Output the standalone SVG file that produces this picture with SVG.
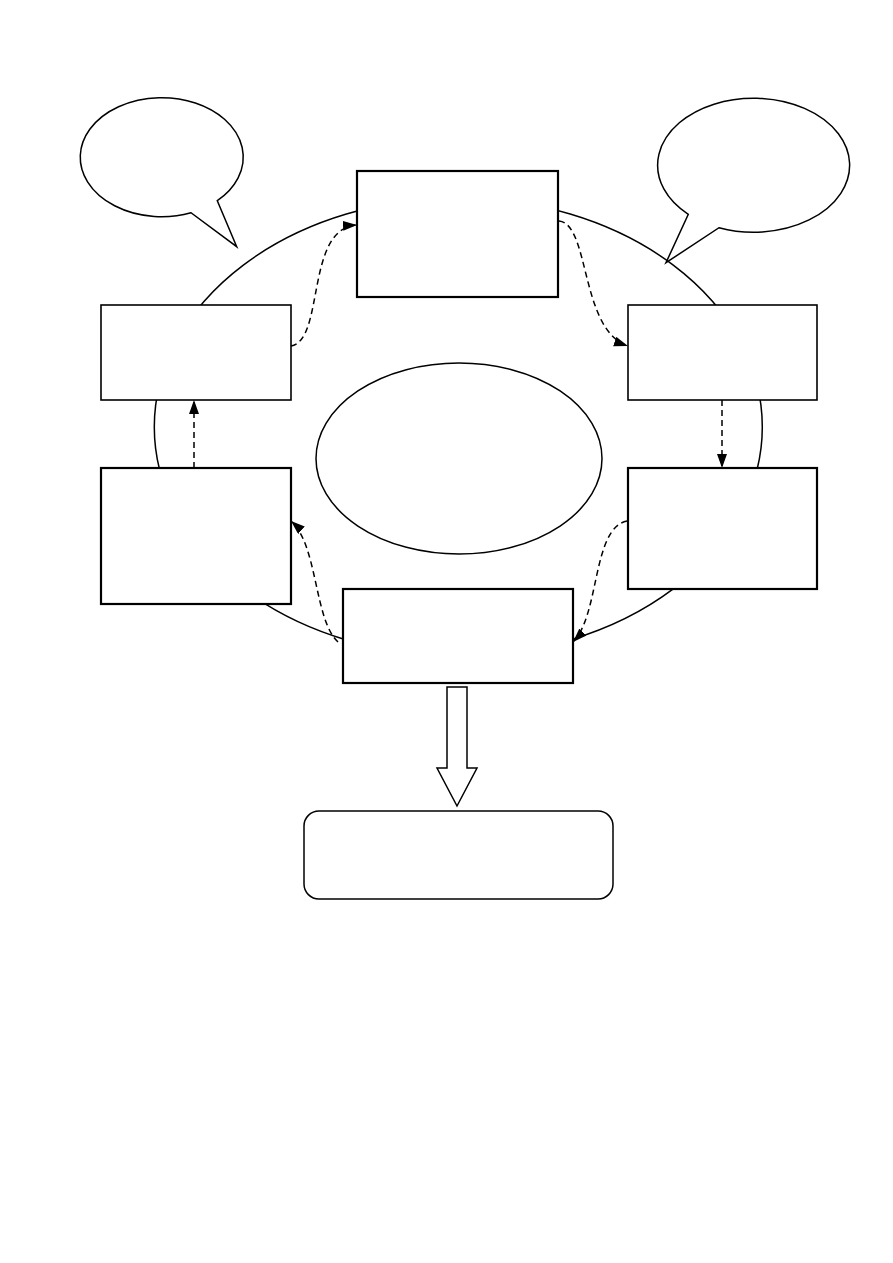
<svg xmlns="http://www.w3.org/2000/svg" width="893" height="1263" viewBox="0 0 893 1263">
<style>
.thin{fill:none;stroke:#000;stroke-width:1.5}
.box{fill:#fff;stroke:#000;stroke-width:2.2}
.boxt{fill:#fff;stroke:#000;stroke-width:1.6}
.bub{fill:#fff;stroke:#000;stroke-width:1.5;stroke-linejoin:miter}
.dash{fill:none;stroke:#000;stroke-width:1.5;stroke-dasharray:6,4}
</style>
<defs>
<marker id="ah" markerUnits="userSpaceOnUse" markerWidth="16" markerHeight="12" refX="14" refY="5" orient="auto">
<path d="M0,0 L14,5 L0,10 Z" fill="#000"/>
</marker>
</defs>
<rect width="893" height="1263" fill="#fff"/>
<ellipse id="cycle" class="thin" cx="458.3" cy="427" rx="304" ry="229"/>
<g id="bubble-left"><path class="bub" d="M217.3,200.7 A81.5,59.5 0 1 0 191,212.7 L236.7,246.7 Z"/></g>
<g id="bubble-right"><path class="bub" d="M688.3,214.3 A96,67 0 1 1 719,227.7 L666,262.7 Z"/></g>
<g id="node-top"><rect class="box" x="357" y="171" width="201" height="126"/></g>
<g id="node-upper-left"><rect class="boxt" x="101" y="305" width="190" height="95"/></g>
<g id="node-lower-left"><rect class="box" x="101" y="468" width="190" height="136"/></g>
<g id="node-upper-right"><rect class="boxt" x="628" y="305" width="189" height="95"/></g>
<g id="node-lower-right"><rect class="box" x="628" y="468" width="189" height="121"/></g>
<g id="node-bottom"><rect class="box" x="343" y="589" width="230" height="94"/></g>
<g id="node-center"><ellipse class="thin" cx="459" cy="458.5" rx="143" ry="95.5" fill="#fff"/></g>
<g id="node-result"><rect class="thin" x="304" y="811" width="309" height="88" rx="15" ry="15" fill="#fff"/></g>
<g id="connectors">
<path class="dash" d="M291,346 C325,340 305,228 357,225" marker-end="url(#ah)"/>
<path class="dash" d="M559,221 C590,224 580,330 628,346" marker-end="url(#ah)"/>
<path class="dash" d="M722,400 L722,468" marker-end="url(#ah)"/>
<path class="dash" d="M627,521 C592,528 600,615 573,642" marker-end="url(#ah)"/>
<path class="dash" d="M338,642 C314,620 318,545 291,521" marker-end="url(#ah)"/>
<path class="dash" d="M194,468 L194,400" marker-end="url(#ah)"/>
<polygon class="bub" points="447,687 467,687 467,768 477,768 457,806 437,768 447,768"/>
</g>
</svg>
